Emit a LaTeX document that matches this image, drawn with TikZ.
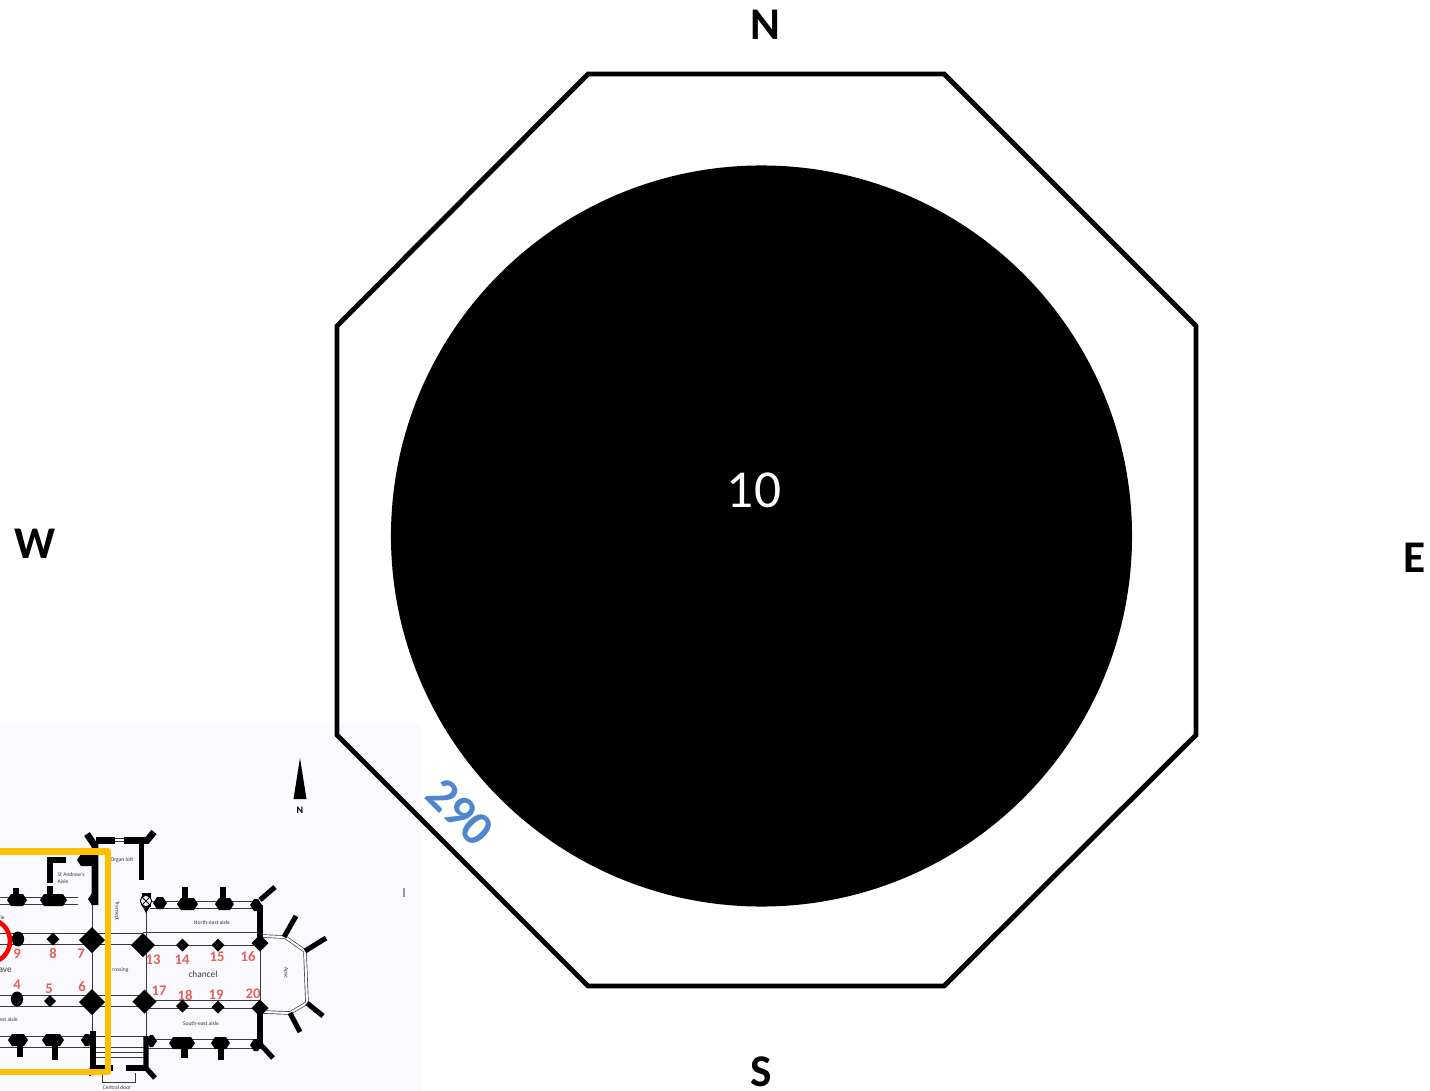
\documentclass[tikz,border=0pt]{standalone}
\usepackage{fontspec}
\setmainfont{Carlito}
\usepackage{xcolor}
\definecolor{papel}{HTML}{F9F9FE}
\definecolor{oro}{HTML}{FFC000}
\definecolor{rojo}{HTML}{E8605C}
\definecolor{azul}{HTML}{4F86CE}
\definecolor{tinta}{HTML}{3A3A3A}
\begin{document}
\begin{tikzpicture}[
    x=0.75pt,y=-0.75pt,line join=miter,
    compass/.style={font=\fontsize{34}{34}\selectfont\bfseries,black,inner sep=0pt},
    pared/.style={black,line width=5pt},
    muro/.style={black,line width=3.8pt},
    linea/.style={tinta,line width=0.7pt},
    doble/.style={tinta,line width=0.5pt,double=papel,double distance=1.6pt},
    num/.style={rojo,font=\fontsize{11}{11}\selectfont\bfseries,inner sep=0pt},
    rotulo/.style={tinta,font=\fontsize{4.2}{4.8}\selectfont,inner sep=0pt,align=left}]
  \useasboundingbox (0,0) rectangle (1430,1091);
  % --- plano de la iglesia, abajo a la izquierda
  \begin{scope}
    \clip (0,723) rectangle (421,1091);
    \fill[papel] (0,723) rectangle (421,1091);
    % lineas de las arcadas y muros
    \foreach \xa/\xb/\yy in {0/143/933,0/143/944,143/260/932,143/260/945,
                             0/146/995,0/146/1006,146/260/1000,146/260/1008,
                             0/78/897,0/78/904,150/258/901,150/258/908,
                             0/146/1036,0/146/1047,146/262/1039,146/262/1048,
                             95/146/1052,95/146/1057}
      \draw[linea] (\xa,\yy) -- (\xb,\yy);
    \foreach \xx/\ya/\yb in {92/905/1036,146/906/1040,260/930/1012}
      \draw[linea] (\xx,\ya) -- (\xx,\yb);
    \draw[linea] (102,1073) -- (102,1082) -- (135,1082) -- (135,1073);
    \draw[doble] (115,840) -- (124,840);
    \draw[doble] (262,936) -- (285,937) -- (305,951) -- (307,1003) -- (290,1013) -- (263,1012);
    % muros gruesos
    \draw[pared] (87,834) -- (95,846) -- (95,905);
    \draw[pared] (96,840.5) -- (115,840.5);
    \draw[pared] (124,840.5) -- (147,840.5) -- (154,832);
    \draw[muro] (141.5,841) -- (141.5,880);
    \draw[pared] (50,883) -- (50,860) -- (66,860);
    \draw[muro] (50,886) -- (50,900);
    \draw[muro] (93,1031) -- (93,1068) -- (113,1068);
    \draw[muro] (146,1036) -- (146,1068) -- (155,1078);
    \draw[muro] (126,1068) -- (146,1068);
    \draw[pared] (260,905) -- (260,942);
    \draw[pared] (260,1010) -- (260,1045);
    \draw[muro] (260,900) -- (275,887);
    \draw[muro] (261,1045) -- (273,1058);
    \foreach \xa/\ya/\xb/\yb in {284/937/296/916,305/951/326/938,
                                 307/1003/323/1016,290/1013/300/1032}
      \draw[muro] (\xa,\ya) -- (\xb,\yb);
    % contrafuertes con pie
    \foreach \xx/\ya/\yb in {16/888/900,50/886/900,185/887/903,223/887/904,
                             20/1040/1057,55/1040/1060,184.5/1043/1058,221/1043/1060}
      \draw[pared] (\xx,\ya) -- (\xx,\yb);
    \foreach \xa/\xb/\yy in {7/27/900,40/67/900,77/97/860,153/167/903,177/198/904,215/234/904,
                             8/28/1040,42/64/1040,81/93/1040,146/157/1041,169/195/1043,211/230/1043,
                             250/262/905,250/262/1045,88/97/899}
      \fill[black] (\xa,\yy) -- ({\xa+4},{\yy-6}) -- ({\xb-4},{\yy-6}) -- (\xb,\yy)
        -- ({\xb-4},{\yy+6}) -- ({\xa+4},{\yy+6}) -- cycle;
    % pilares
    \foreach \xx/\yy/\rr in {92/940/13,92/1002/13,143/945/12,144.5/1001.5/12,
                             53/939/6.5,50/1001/6,182.5/945/6.5,218/945/6.5,
                             182.5/1006/6.5,218/1007/6.5,260/943/8.5,260/1008/8.5,90/1072/4,
                             86/940/6,86/1002/6}
      \fill[black] ({\xx-\rr},\yy) -- (\xx,{\yy-\rr}) -- ({\xx+\rr},\yy) -- (\xx,{\yy+\rr}) -- cycle;
    \foreach \xx/\yy in {18/939,17/999}
      \fill[black] (\xx,\yy) ellipse [x radius=4.6pt,y radius=5.6pt];
    % cruce junto al transepto
    \fill[black] (142,893) rectangle (151,907);
    \fill[black] (142,905) -- (151,905) -- (146,913) -- cycle;
    \node[circle,draw=black,fill=papel,line width=0.7pt,inner sep=0pt,minimum size=8.5pt] (cruz) at (146,901) {};
    \draw[black,line width=0.7pt] (cruz.north west) -- (cruz.south east);
    \draw[black,line width=0.7pt] (cruz.north east) -- (cruz.south west);
    % flecha del norte y manchas
    \fill[black] (300,758) -- (306.5,799) -- (293.5,799) -- cycle;
    \node[black,font=\fontsize{7.5}{8}\selectfont\bfseries,inner sep=0pt] (norte) at (300,810) {N};
    \fill[tinta,opacity=0.5] (403,888) rectangle (405,897);
    % rotulos
    \node[rotulo] (andrew) at (71,878) {St Andrew's\\Aisle};
    \node[rotulo] (organ) at (122,860) {Organ loft};
    \node[rotulo,rotate=-90] (transept) at (117,911) {Transept};
    \node[rotulo] (crossing) at (120.5,970) {rossing};
    \node[rotulo] (nea) at (212,923) {North-east aisle};
    \node[rotulo] (sea) at (201,1024) {South-east aisle};
    \node[rotulo,rotate=-90] (apse) at (286,973) {Apse};
    \node[rotulo] (door) at (117,1088) {Central door};
    \node[rotulo,anchor=east] (nwa) at (5,918) {le};
    \node[rotulo,anchor=east] (swa) at (18,1020) {est aisle};
    \node[rotulo,anchor=east,font=\fontsize{7}{8}\selectfont] (nave) at (12,970) {ave};
    \node[rotulo,font=\fontsize{7}{8}\selectfont] (chancel) at (203,974) {chancel};
    % numeros de los pilares
    \foreach \xx/\yy/\txt in {17/954/9,53/953/8,81/954/7,17/985/4,49/989/5,82/987/6,
                              153/960/13,182/960/14,217/957/15,248/957/16,
                              159/991/17,185/995/18,216/995/19,253/994/20}
      \node[num] (p\txt) at (\xx,\yy) {\txt};
    % recuadro y circulo
    \draw[oro,line width=5pt,line join=round] (-10,851.5) -- (108,851.5) -- (108,1072) -- (-10,1072);
    \draw[red,line width=3.4pt] (-12,941) circle [radius=16.5pt];
  \end{scope}
  % --- octogono y circulo
  \draw[black,line width=3.7pt] (588,74) -- (944,74) -- (1196,326) -- (1196,735)
    -- (944,986) -- (588,986) -- (337,735) -- (337,326) -- cycle;
  \fill[black] (761.5,536) circle [radius=277.9pt];
  \node[white,font=\fontsize{40}{40}\selectfont] (diez) at (754,490) {10};
  \node[azul,font=\fontsize{36}{36}\selectfont\bfseries,rotate=-45,inner sep=0pt] (lado) at (460,812) {290};
  % puntos cardinales
  \node[compass] (n) at (765,25) {N};
  \node[compass] (s) at (761,1072) {S};
  \node[compass] (w) at (35,544) {W};
  \node[compass] (e) at (1415,558) {E};
\end{tikzpicture}
\end{document}
